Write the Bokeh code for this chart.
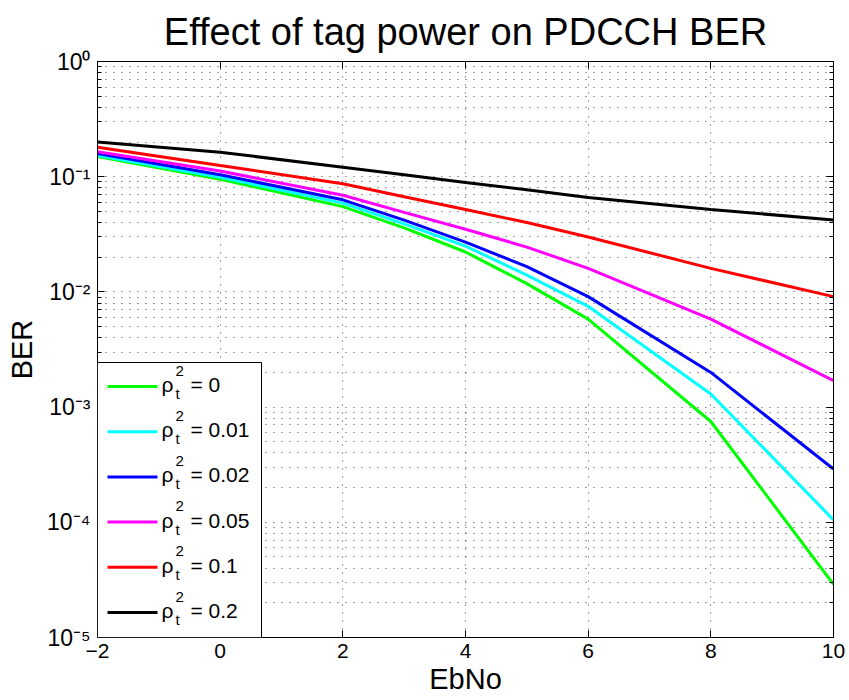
import numpy as np
from bokeh.plotting import figure
from bokeh.models import (Range1d, FixedTicker, LogAxis, LinearAxis, Label,
                          BoxAnnotation, Arrow, CustomJSTickFormatter)
from bokeh.embed import file_html
from bokeh.resources import INLINE

# ---------------- data ----------------
ebno = [-2, 0, 2, 3, 4, 5, 6, 8, 10]
ber_0 = [0.150, 0.095, 0.055, 0.036, 0.0222, 0.0118, 0.0058, 0.00075, 0.000029]
ber_001 = [0.153, 0.099, 0.059, 0.039, 0.025, 0.014, 0.0075, 0.0013, 0.000105]
ber_002 = [0.159, 0.104, 0.063, 0.042, 0.027, 0.0166, 0.0091, 0.0020, 0.00029]
ber_005 = [0.165, 0.112, 0.069, 0.049, 0.035, 0.0245, 0.016, 0.0058, 0.0017]
ber_01 = [0.180, 0.125, 0.087, 0.067, 0.052, 0.040, 0.030, 0.016, 0.0091]
ber_02 = [0.200, 0.163, 0.121, 0.104, 0.089, 0.077, 0.066, 0.052, 0.042]

series = [ber_0, ber_001, ber_002, ber_005, ber_01, ber_02]
series_labels = ["0", "0.01", "0.02", "0.05", "0.1", "0.2"]
series_colors = ["#00FF00", "#00FFFF", "#0000FF", "#FF00FF", "#FF0000", "#000000"]

x_ticks = [-2, 0, 2, 4, 6, 8, 10]
x_tick_labels = ["\u22122", "0", "2", "4", "6", "8", "10"]
y_ticks = [1e-5, 1e-4, 1e-3, 1e-2, 1e-1, 1e0]
y_tick_labels = ["10\u207b\u2075", "10\u207b\u2074", "10\u207b\u00b3",
                 "10\u207b\u00b2", "10\u207b\u00b9", "10\u2070"]

title_text = "Effect of tag power on PDCCH BER"
x_label = "EbNo"
y_label = "BER"

# ---------------- layout ----------------
L, R, T, B = 97, 16, 60, 64
FW, FH = 736, 576
XMIN, XMAX = -2, 10
FONT = "Liberation Sans"


def data_x(sx):
    return XMIN + (sx - L) / FW * (XMAX - XMIN)


def data_y(sy):
    return 10 ** (0 - (sy - T) / FH * 5)


p = figure(frame_width=FW, frame_height=FH, x_range=Range1d(XMIN, XMAX), y_range=Range1d(1e-5, 1),
           y_axis_type="log", output_backend="svg", toolbar_location=None,
           min_border_left=L, min_border_right=R, min_border_top=T, min_border_bottom=B)
p.title.text = title_text
p.title.text_font = FONT
p.title.text_font_size = "38px"
p.title.text_font_style = "normal"
p.title.text_color = "black"
p.title.align = "center"
p.title.offset = 0
p.title.standoff = 17

p.background_fill_color = "white"
p.border_fill_color = "white"
p.outline_line_color = "black"
p.outline_line_width = 1

yminor = [m * 10.0 ** k for k in range(-5, 0) for m in range(2, 10)]
xt = FixedTicker(ticks=x_ticks)
yt = FixedTicker(ticks=y_ticks, minor_ticks=yminor)

xa = p.xaxis[0]
xa.ticker = xt
xa.formatter = CustomJSTickFormatter(args=dict(tvals=x_ticks, tlabels=x_tick_labels), code="""
    let best = 0;
    for (let i = 0; i < tvals.length; i++) {
        if (Math.abs(tvals[i] - tick) < Math.abs(tvals[best] - tick)) best = i;
    }
    return tlabels[best];
""")
xa.major_tick_in = 7
xa.major_tick_out = 0
xa.minor_tick_in = 0
xa.minor_tick_out = 0
xa.major_label_standoff = 6
xa.major_label_text_font = FONT
xa.major_label_text_font_size = "21px"
xa.major_label_text_color = "black"
xa.axis_line_color = "black"
xa.axis_label = x_label
xa.axis_label_text_font = FONT
xa.axis_label_text_font_size = "29px"
xa.axis_label_text_font_style = "normal"
xa.axis_label_text_color = "black"
xa.axis_label_standoff = 2

ya = p.yaxis[0]
ya.ticker = yt
ya.formatter = CustomJSTickFormatter(args=dict(tvals=y_ticks, tlabels=y_tick_labels), code="""
    let best = 0;
    const lt = Math.log10(tick);
    for (let i = 0; i < tvals.length; i++) {
        if (Math.abs(Math.log10(tvals[i]) - lt) < Math.abs(Math.log10(tvals[best]) - lt)) best = i;
    }
    return tlabels[best];
""")
ya.major_tick_in = 7
ya.major_tick_out = 0
ya.minor_tick_in = 4
ya.minor_tick_out = 0
ya.major_label_standoff = 7
ya.major_label_text_font = FONT
ya.major_label_text_font_size = "23px"
ya.major_label_text_color = "black"
ya.axis_line_color = "black"
ya.axis_label = y_label
ya.axis_label_text_font = FONT
ya.axis_label_text_font_size = "29px"
ya.axis_label_text_font_style = "normal"
ya.axis_label_text_color = "black"
ya.axis_label_standoff = 6

ra = LogAxis(ticker=yt, formatter=CustomJSTickFormatter(code="return ''"),
             major_tick_in=7, major_tick_out=0, minor_tick_in=4, minor_tick_out=0,
             major_label_standoff=0, axis_line_color="black")
p.add_layout(ra, "right")
ta = LinearAxis(ticker=xt, formatter=CustomJSTickFormatter(code="return ''"),
                major_tick_in=7, major_tick_out=0, minor_tick_in=0, minor_tick_out=0,
                major_label_standoff=0, axis_line_color="black")
p.add_layout(ta, "above")

p.xgrid.ticker = xt
p.ygrid.ticker = yt
for g in (p.xgrid, p.ygrid):
    g.grid_line_color = "black"
    g.grid_line_alpha = 0.75
    g.grid_line_dash = "1 7"
    g.grid_line_width = 1
p.ygrid.minor_grid_line_color = "black"
p.ygrid.minor_grid_line_alpha = 0.75
p.ygrid.minor_grid_line_dash = "1 7"

# ---------------- series ----------------
for vals, col in zip(series, series_colors):
    p.line(ebno, vals, line_width=3, line_color=col)


# ---------------- legend ----------------
def lab(text, ox, oy, size, align="left"):
    p.add_layout(Label(x=XMIN, y=1e-5, x_offset=ox, y_offset=oy, text=text,
                       text_font=FONT, text_font_size=size, text_color="black",
                       text_align=align, text_baseline="alphabetic"))


p.add_layout(BoxAnnotation(left=XMIN, right=data_x(261), bottom=1e-5, top=data_y(361),
                           fill_color="white", fill_alpha=1.0, line_color="black",
                           line_alpha=1.0, line_width=1))
bottom_sy = T + FH
for k, (lbl, col) in enumerate(zip(series_labels, series_colors)):
    ly = 385 + 45.2 * k
    p.add_layout(Arrow(start=None, end=None, x_start=data_x(107), y_start=data_y(ly),
                       x_end=data_x(157), y_end=data_y(ly), line_color=col, line_width=3))
    lab("\u03c1", 161 - L, bottom_sy - (ly - 2), "21px")
    lab("2", 175 - L, bottom_sy - (ly - 16), "15px")
    lab("t", 175 - L, bottom_sy - (ly + 7), "15px")
    lab("= " + lbl, 190 - L, bottom_sy - (ly - 2), "21px")

open("out.html", "w").write(file_html(p, INLINE))
